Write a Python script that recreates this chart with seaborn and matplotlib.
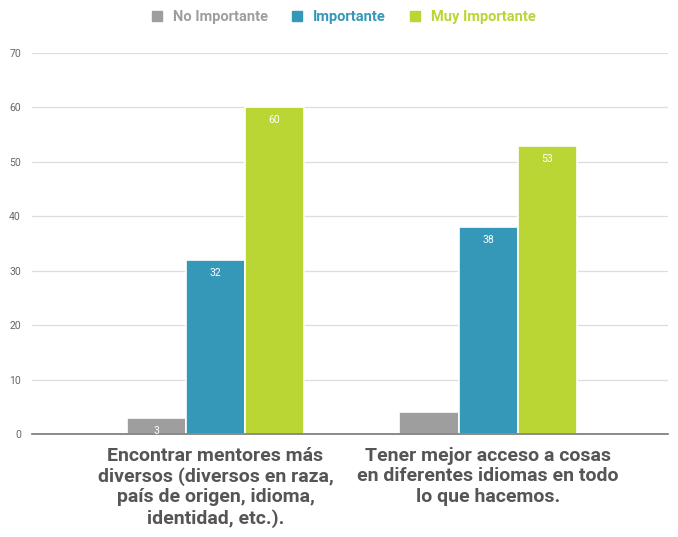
import numpy as np
import pandas as pd
import matplotlib
matplotlib.use("Agg")
import matplotlib.pyplot as plt
import seaborn as sns
from matplotlib.lines import Line2D

# data
categories = [
    "Encontrar mentores más\ndiversos (diversos en raza,\npaís de origen, idioma,\nidentidad, etc.).",
    "Tener mejor acceso a cosas\nen diferentes idiomas en todo\nlo que hacemos.",
]
levels = ["No Importante", "Importante", "Muy Importante"]
no_importante = [3, 4]
importante = [32, 38]
muy_importante = [60, 53]
# labels as shown on the bars ('' = not shown)
bar_labels = [["3", ""], ["32", "38"], ["60", "53"]]
colors = ["#9e9e9e", "#3598b8", "#bad634"]

df = pd.DataFrame({
    "cat": np.repeat(categories, len(levels)),
    "level": levels * len(categories),
    "val": [v for pair in zip(no_importante, importante, muy_importante) for v in pair],
})

sns.set_style("white")
plt.rcParams["font.family"] = ["Roboto", "DejaVu Sans"]

fig = plt.figure(figsize=(6.78, 5.37), dpi=100)
ax = fig.add_axes([0.0472, 0.1918, 0.9381, 0.7095])

sns.barplot(data=df, x="cat", y="val", hue="level", hue_order=levels,
            order=categories, palette=colors, saturation=1, width=0.65,
            edgecolor="white", linewidth=1.2, legend=False, ax=ax)

for cont, labs in zip(ax.containers, bar_labels):
    ax.bar_label(cont, labels=labs, label_type="edge", padding=-13,
                 color="white", fontsize=7.5)

ax.set_xlim(-0.673, 1.66)
ax.set_ylim(0, 70)
ax.set_yticks(range(0, 71, 10))
ax.yaxis.grid(True, color="#dddddd", linewidth=0.9)
ax.set_axisbelow(True)
for s in ["top", "right", "left"]:
    ax.spines[s].set_visible(False)
ax.spines["bottom"].set_color("#777777")
ax.spines["bottom"].set_linewidth(1.2)
ax.tick_params(axis="y", length=0, labelsize=7.5, labelcolor="#666666", pad=8)
ax.tick_params(axis="x", length=0, pad=9)
ax.set_xticks(range(len(categories)))
ax.set_xticklabels(categories, fontsize=14, fontweight="bold",
                   color="#555555", linespacing=1.18, va="top")
ax.set_xlabel("")
ax.set_ylabel("")

handles = [Line2D([0], [0], marker="s", linestyle="", markersize=7,
                  markerfacecolor=c, markeredgecolor=c) for c in colors]
leg = fig.legend(handles, levels, loc="upper center", bbox_to_anchor=(0.5, 1.005),
                 ncol=3, frameon=False, handletextpad=0.1, columnspacing=1.0,
                 prop={"weight": "bold", "size": 10.5})
for t, c in zip(leg.get_texts(), colors):
    t.set_color(c)

fig.savefig("out.png", dpi=100)
